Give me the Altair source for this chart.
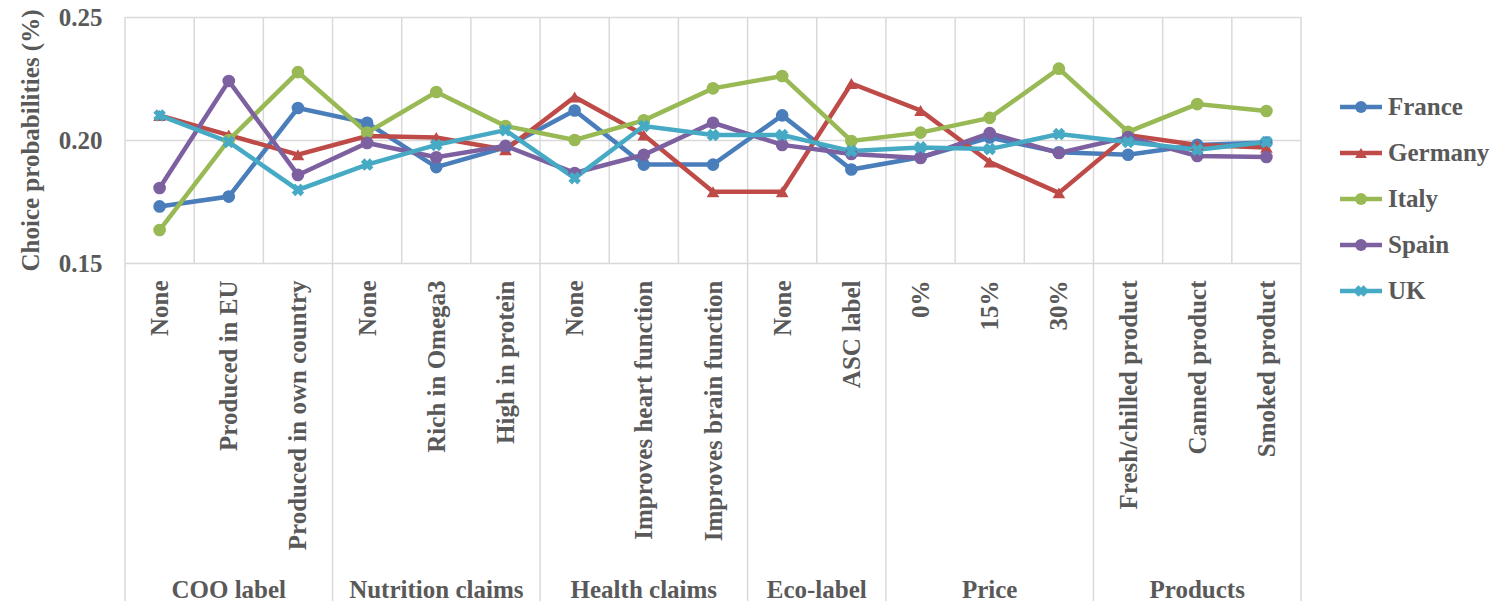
import altair as alt
import pandas as pd

categories = ["None", "Produced in EU", "Produced in own country",
              "None", "Rich in Omega3", "High in protein",
              "None", "Improves heart function", "Improves brain function",
              "None", "ASC label",
              "0%", "15%", "30%",
              "Fresh/chilled product", "Canned product", "Smoked product"]
groups = ["COO label", "Nutrition claims", "Health claims", "Eco-label", "Price", "Products"]
group_sizes = [3, 3, 3, 2, 3, 3]

countries = ["France", "Germany", "Italy", "Spain", "UK"]
france = [0.173, 0.177, 0.213, 0.207, 0.189, 0.197, 0.212, 0.190, 0.190, 0.210, 0.188,
          0.193, 0.201, 0.195, 0.194, 0.198, 0.199]
germany = [0.210, 0.202, 0.194, 0.2016, 0.201, 0.196, 0.2175, 0.202, 0.179, 0.179, 0.223,
           0.212, 0.191, 0.1785, 0.202, 0.198, 0.197]
italy = [0.1634, 0.200, 0.2276, 0.203, 0.2195, 0.2057, 0.200, 0.208, 0.221, 0.226, 0.1996,
         0.203, 0.209, 0.229, 0.2033, 0.2146, 0.2118]
spain = [0.1805, 0.224, 0.1858, 0.1988, 0.193, 0.1976, 0.1866, 0.194, 0.207, 0.198, 0.1943,
         0.1927, 0.2028, 0.1947, 0.2012, 0.1935, 0.1931]
uk = [0.210, 0.1992, 0.1797, 0.190, 0.198, 0.204, 0.1845, 0.2057, 0.202, 0.202, 0.1955,
      0.197, 0.1963, 0.2024, 0.1992, 0.196, 0.1992]

colors = ["#4A7EBB", "#BE4B48", "#98B954", "#7D60A0", "#46AAC5"]
shapes = ["circle", "triangle-up", "circle", "circle", "cross"]

FONT = "Liberation Serif"
TXT = "#595959"
GRID = "#d9d9d9"
W, H = 1176, 246

series = dict(zip(countries, [france, germany, italy, spain, uk]))
rows = []
for c in countries:
    for i, v in enumerate(series[c]):
        rows.append({"country": c, "pos": i + 0.5, "value": v})
df = pd.DataFrame(rows)

n = len(categories)
bounds_df = pd.DataFrame({"pos": list(range(n + 1))})
gb = [0]
for s in group_sizes:
    gb.append(gb[-1] + s)
gbounds_df = pd.DataFrame({"pos": gb})
gcenter_df = pd.DataFrame({"group": groups,
                           "pos": [(gb[k] + gb[k + 1]) / 2 for k in range(len(groups))]})
legend_df = pd.DataFrame({"country": countries, "idx": list(range(len(countries)))})

color_scale = alt.Scale(domain=countries, range=colors)
shape_scale = alt.Scale(domain=countries, range=shapes)
xscale = alt.Scale(domain=[0, n], nice=False, zero=False)
yscale = alt.Scale(domain=[0.15, 0.25], nice=False, zero=False)

label_expr = "[" + ",".join("'" + c + "'" for c in categories) + "][floor(datum.value)]"

x_axis = alt.Axis(values=[i + 0.5 for i in range(n)], labelExpr=label_expr, labelAngle=-90,
                  labelAlign="right", labelBaseline="middle", labelPadding=17,
                  labelFont=FONT, labelFontSize=25, labelFontWeight="bold", labelColor=TXT,
                  labelLimit=500, labelOverlap=False, labelFlush=False,
                  ticks=False, domain=False, grid=False, title=None)
y_axis = alt.Axis(values=[0.15, 0.2, 0.25], format=".2f", labelFont=FONT, labelFontSize=25,
                  labelFontWeight="bold", labelColor=TXT, labelPadding=23, ticks=False,
                  domain=False, grid=True, gridColor=GRID, gridWidth=1.5,
                  title="Choice probabilities (%)", titleFont=FONT, titleFontSize=25,
                  titleFontWeight="bold", titleColor=TXT, titlePadding=15)

X = alt.X("pos:Q", scale=xscale, axis=x_axis)

vgrid = alt.Chart(bounds_df).mark_rule(color=GRID, strokeWidth=1.5).encode(x=X)
seps = alt.Chart(gbounds_df).mark_rule(color=GRID, strokeWidth=1.5).encode(
    x=X, y=alt.value(H), y2=alt.value(H + 360))
glabels = alt.Chart(gcenter_df).mark_text(font=FONT, fontSize=25, fontWeight="bold",
                                          color=TXT, baseline="middle").encode(
    x=X, y=alt.value(H + 327), text="group:N")

lines = alt.Chart(df).mark_line(strokeWidth=4.5).encode(
    x=X,
    y=alt.Y("value:Q", scale=yscale, axis=y_axis),
    color=alt.Color("country:N", scale=color_scale, legend=None))
points = alt.Chart(df).mark_point(filled=True, size=160, opacity=1).encode(
    x=X,
    y=alt.Y("value:Q", scale=yscale, axis=y_axis),
    color=alt.Color("country:N", scale=color_scale, legend=None),
    shape=alt.Shape("country:N", scale=shape_scale, legend=None),
    angle=alt.condition("datum.country == 'UK'", alt.value(45), alt.value(0)))

main = alt.layer(vgrid, seps, glabels, lines, points)

ly = alt.Y("idx:Q", scale=alt.Scale(domain=[0, len(countries) - 1], range=[90, 274],
                                     nice=False, zero=False), axis=None)
leg_rule = alt.Chart(legend_df).mark_rule(strokeWidth=4.5).encode(
    x=alt.value(1215), x2=alt.value(1257), y=ly,
    color=alt.Color("country:N", scale=color_scale, legend=None))
leg_pt = alt.Chart(legend_df).mark_point(filled=True, size=140, opacity=1).encode(
    x=alt.value(1236), y=ly,
    color=alt.Color("country:N", scale=color_scale, legend=None),
    shape=alt.Shape("country:N", scale=shape_scale, legend=None),
    angle=alt.condition("datum.country == 'UK'", alt.value(45), alt.value(0)))
leg_txt = alt.Chart(legend_df).mark_text(font=FONT, fontSize=25, fontWeight="bold", color=TXT,
                                         align="left", baseline="middle").encode(
    x=alt.value(1263), y=ly, text="country:N")
legend = alt.layer(leg_rule, leg_pt, leg_txt)

chart = alt.layer(main, legend).resolve_scale(y="independent").properties(
    width=W, height=H,
    autosize=alt.AutoSizeParams(type="none"),
    padding={"left": 117, "top": 9, "right": 190, "bottom": 338},
    background="white",
).configure_view(stroke=None)

chart.save("out.html", embed_options={"renderer": "svg", "actions": False})
